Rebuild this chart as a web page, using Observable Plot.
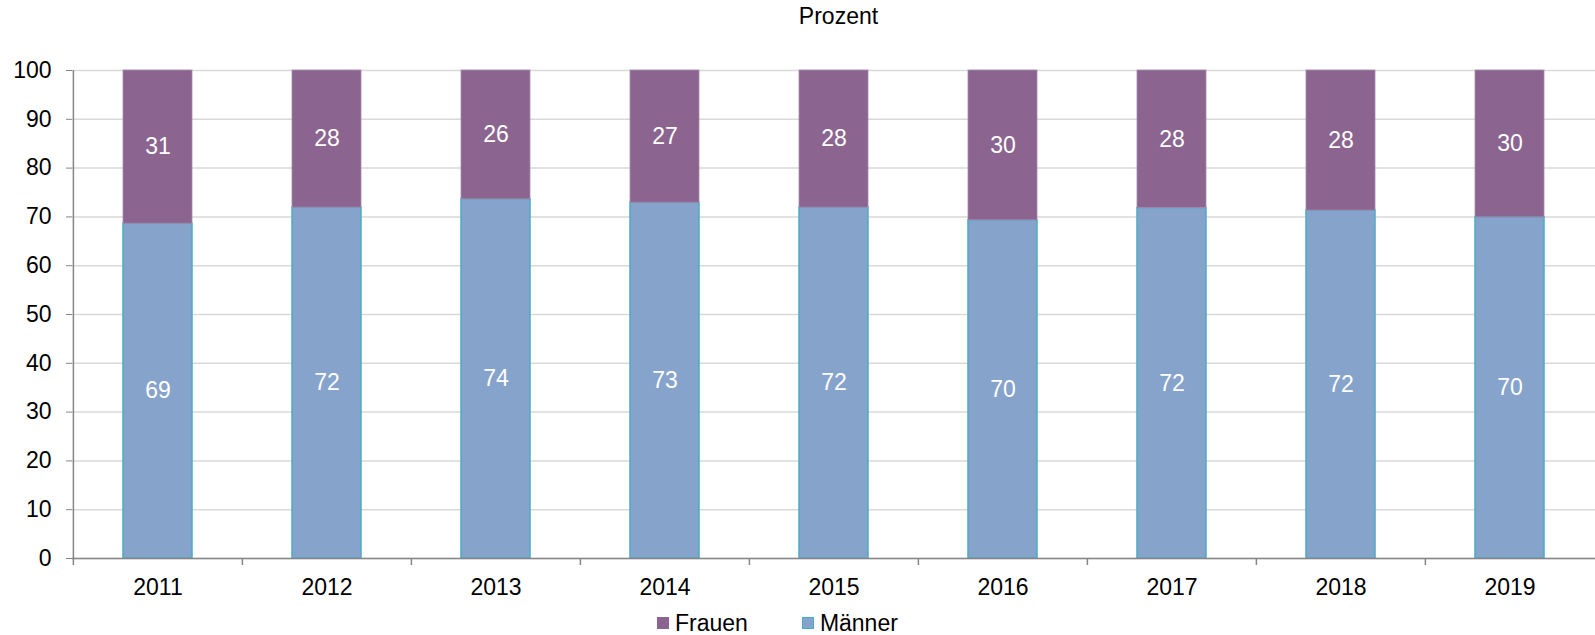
<!DOCTYPE html>
<html>
<head>
<meta charset="utf-8">
<script src="https://cdn.jsdelivr.net/npm/d3@7"></script>
<script src="https://cdn.jsdelivr.net/npm/@observablehq/plot@0.6"></script>
<style>
  body { margin: 0; background: #fff; font-family: "Liberation Sans", Arial, sans-serif; }
  #wrap { position: relative; width: 1595px; height: 635px; overflow: hidden; }
  #title { position: absolute; left: 82px; right: 0; top: 0; height: 32px; line-height: 32px;
           text-align: center; font-size: 23px; color: #000; }
  #chart { position: absolute; left: 0; top: 32px; }
  #legend { position: absolute; left: 657px; top: 609px; height: 28px; display: flex; align-items: center;
            font-size: 23px; color: #000; }
  .item { display: flex; align-items: center; }
  .sw { width: 12px; height: 12px; box-sizing: border-box; margin-right: 6px; }
</style>
</head>
<body>
<div id="wrap">
  <div id="title">Prozent</div>
  <div id="chart"></div>
  <div id="legend"></div>
</div>
<script>
// ---- data ----
const years = ["2011", "2012", "2013", "2014", "2015", "2016", "2017", "2018", "2019"];
const maenner = [68.6, 71.9, 73.6, 72.9, 71.9, 69.3, 71.8, 71.3, 69.9];
const frauen = [31.4, 28.1, 26.4, 27.1, 28.1, 30.7, 28.2, 28.7, 30.1];
const maennerLabels = ["69", "72", "74", "73", "72", "70", "72", "72", "70"];
const frauenLabels = ["31", "28", "26", "27", "28", "30", "28", "28", "30"];
const yTicks = [0, 10, 20, 30, 40, 50, 60, 70, 80, 90, 100];
const seriesNames = ["Frauen", "Männer"];

// ---- layout / style ----
const W = 1595, H = 568, ML = 72, MR = 0, MT = 38, MB = 42;
const colFrauen = "#8b658f", colMaenner = "#86a3cb", edgeMaenner = "#4bacc6";
const axisCol = "#868686", gridCol = "#d9d9d9";
const step = (W - ML - MR) / years.length;

const rows = years.map((year, i) => ({
  year, m: maenner[i], f: frauen[i], ml: maennerLabels[i], fl: frauenLabels[i], first: i === 0
}));

const chart = Plot.plot({
  width: W, height: H,
  marginLeft: ML, marginRight: MR, marginTop: MT, marginBottom: MB,
  style: { fontFamily: "'Liberation Sans', Arial, sans-serif", fontSize: "23px", color: "#000", background: "#fff", overflow: "visible" },
  x: { domain: years, paddingInner: 0.59, paddingOuter: 0.295, axis: null },
  y: { domain: [0, 100], axis: null },
  marks: [
    Plot.gridY(yTicks, { stroke: gridCol, strokeOpacity: 1, strokeWidth: 1.5 }),
    Plot.barY(rows, { x: "year", y1: 0, y2: "m", fill: colMaenner, stroke: edgeMaenner, strokeWidth: 1.5 }),
    Plot.barY(rows, { x: "year", y1: "m", y2: d => d.m + d.f, fill: colFrauen, stroke: "#a68aab", strokeWidth: 0.8 }),
    Plot.text(rows, { x: "year", y: d => d.m / 2, text: "ml", fill: "white", fontSize: 23 }),
    Plot.text(rows, { x: "year", y: d => d.m + d.f / 2, text: "fl", fill: "white", fontSize: 23 }),
    Plot.ruleY([0], { stroke: axisCol, strokeWidth: 1.5 }),
    Plot.ruleX(rows, { x: "year", y1: 0, y2: d => d.first ? 100 : 0, insetTop: 7, dx: -step / 2, stroke: axisCol, strokeWidth: 1.5 }),
    Plot.axisY(yTicks, { label: null, tickSize: 6, tickPadding: 15, stroke: axisCol, fill: "#000", fontSize: 23, tickFormat: d => String(d) }),
    Plot.axisX({ label: null, tickSize: 0, tickPadding: 20, fill: "#000", fontSize: 23 })
  ]
});
document.getElementById("chart").appendChild(chart);

// ---- legend ----
const legendCols = { "Frauen": [colFrauen, colFrauen], "Männer": [colMaenner, edgeMaenner] };
const legend = document.getElementById("legend");
seriesNames.forEach((name, i) => {
  const item = document.createElement("div");
  item.className = "item";
  if (i > 0) item.style.marginLeft = "54px";
  const sw = document.createElement("span");
  sw.className = "sw";
  sw.style.background = legendCols[name][0];
  sw.style.border = "1px solid " + legendCols[name][1];
  const t = document.createElement("span");
  t.textContent = name;
  item.appendChild(sw);
  item.appendChild(t);
  legend.appendChild(item);
});
</script>
</body>
</html>
